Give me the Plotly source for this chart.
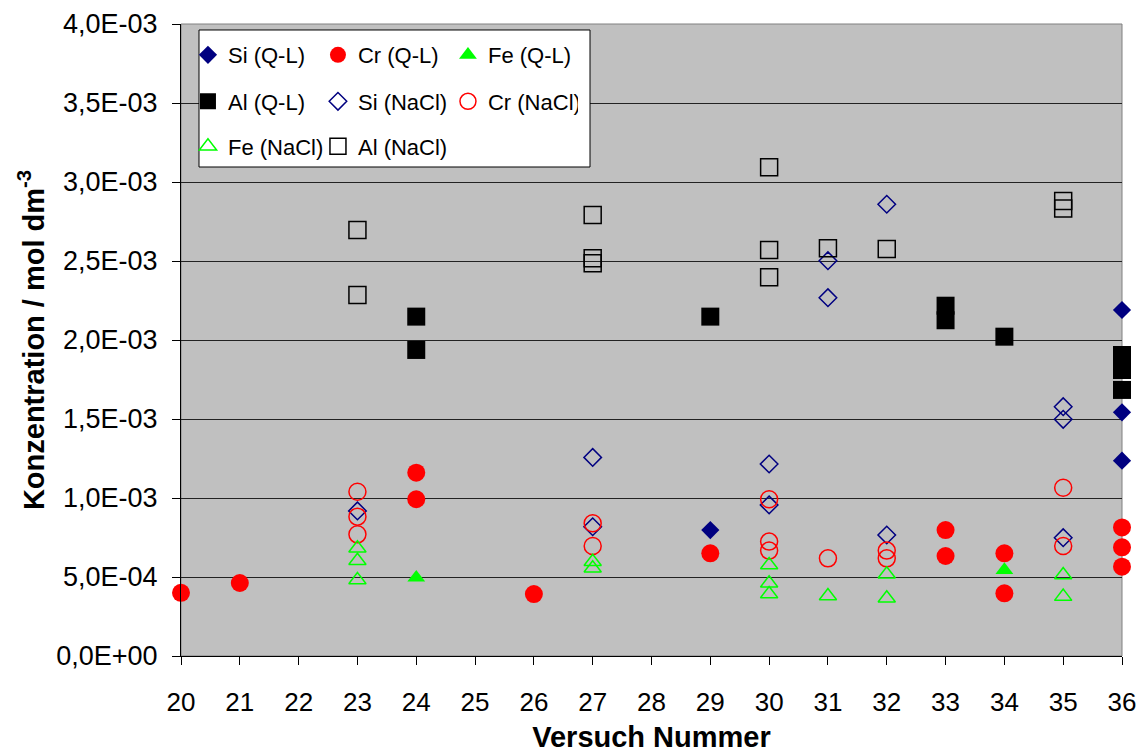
import plotly.graph_objects as go

# Versuch numbers (x) and concentrations in mol dm^-3 (y) for each series
si_ql_x = [29, 36, 36, 36]
si_ql_y = [0.797e-3, 2.190e-3, 1.542e-3, 1.236e-3]

cr_ql_x = [20, 21, 24, 24, 26, 29, 33, 33, 34, 34, 36, 36, 36]
cr_ql_y = [0.400e-3, 0.462e-3, 1.160e-3, 0.992e-3, 0.392e-3, 0.650e-3,
           0.797e-3, 0.633e-3, 0.650e-3, 0.397e-3, 0.814e-3, 0.688e-3, 0.565e-3]

fe_ql_x = [24, 34]
fe_ql_y = [0.496e-3, 0.544e-3]

al_ql_x = [24, 24, 29, 33, 33, 34, 36, 36, 36]
al_ql_y = [2.148e-3, 1.937e-3, 2.148e-3, 2.217e-3, 2.125e-3, 2.021e-3,
           1.905e-3, 1.810e-3, 1.684e-3]

si_nacl_x = [23, 27, 27, 30, 30, 31, 31, 32, 32, 35, 35, 35]
si_nacl_y = [0.918e-3, 1.257e-3, 0.818e-3, 1.215e-3, 0.956e-3, 2.502e-3,
             2.268e-3, 2.859e-3, 0.766e-3, 1.578e-3, 1.498e-3, 0.749e-3]

cr_nacl_x = [23, 23, 23, 27, 27, 30, 30, 30, 31, 32, 32, 35, 35]
cr_nacl_y = [1.040e-3, 0.882e-3, 0.770e-3, 0.840e-3, 0.696e-3, 0.992e-3,
             0.724e-3, 0.667e-3, 0.618e-3, 0.667e-3, 0.618e-3, 1.065e-3, 0.696e-3]

fe_nacl_x = [23, 23, 23, 27, 27, 30, 30, 30, 31, 32, 32, 35, 35]
fe_nacl_y = [0.682e-3, 0.603e-3, 0.481e-3, 0.597e-3, 0.555e-3, 0.576e-3,
             0.460e-3, 0.392e-3, 0.380e-3, 0.517e-3, 0.365e-3, 0.513e-3, 0.376e-3]

al_nacl_x = [23, 23, 27, 27, 27, 30, 30, 30, 31, 32, 35, 35]
al_nacl_y = [2.696e-3, 2.285e-3, 2.791e-3, 2.517e-3, 2.485e-3, 3.093e-3,
             2.570e-3, 2.397e-3, 2.580e-3, 2.576e-3, 2.880e-3, 2.833e-3]

# Axis ticks
x_ticks = list(range(20, 37))
y_tickvals = [0.0, 0.5e-3, 1.0e-3, 1.5e-3, 2.0e-3, 2.5e-3, 3.0e-3, 3.5e-3, 4.0e-3]
y_ticktext = ["0,0E+00", "5,0E-04", "1,0E-03", "1,5E-03", "2,0E-03",
              "2,5E-03", "3,0E-03", "3,5E-03", "4,0E-03"]

FONT = "Liberation Sans"
NAVY, RED, GREEN, BLACK = "#000080", "#FF0000", "#00FF00", "#000000"

# (name, x, y, symbol, color, size, legend row)
series = [
    ("Si (Q-L)", si_ql_x, si_ql_y, "diamond", NAVY, 14, "legend"),
    ("Cr (Q-L)", cr_ql_x, cr_ql_y, "circle", RED, 18, "legend"),
    ("Fe (Q-L)", fe_ql_x, fe_ql_y, "triangle-up", GREEN, 15.5, "legend"),
    ("Al (Q-L)", al_ql_x, al_ql_y, "square", BLACK, 18, "legend2"),
    ("Si (NaCl)", si_nacl_x, si_nacl_y, "diamond-open", NAVY, 13.5, "legend2"),
    ("Cr (NaCl)", cr_nacl_x, cr_nacl_y, "circle-open", RED, 17, "legend2"),
    ("Fe (NaCl)", fe_nacl_x, fe_nacl_y, "triangle-up-open", GREEN, 15, "legend3"),
    ("Al (NaCl)", al_nacl_x, al_nacl_y, "square-open", BLACK, 17, "legend3"),
]

fig = go.Figure()
for name, xs, ys, sym, col, size, leg in series:
    is_open = sym.endswith("-open")
    fig.add_trace(go.Scatter(
        x=xs, y=ys, mode="markers", name=name, legend=leg,
        cliponaxis=False,
        marker=dict(symbol=sym, color=col, size=size,
                    line=dict(width=1.5 if is_open else 0, color=col)),
    ))

legend_common = dict(
    orientation="h", xanchor="left", yanchor="middle", x=0.0074,
    bgcolor="rgba(0,0,0,0)", borderwidth=0,
    font=dict(family=FONT, size=22, color="black"),
    entrywidth=85, entrywidthmode="pixels", itemwidth=30,
)

fig.update_layout(
    width=1137, height=753,
    margin=dict(l=181, r=15, t=24, b=97),
    paper_bgcolor="white",
    plot_bgcolor="#C0C0C0",
    font=dict(family=FONT, size=23, color="black"),
    legend=dict(legend_common, y=0.95095),
    legend2=dict(legend_common, y=0.87737),
    legend3=dict(legend_common, y=0.80617),
    xaxis=dict(
        range=[20, 36], tickmode="array", tickvals=x_ticks,
        ticktext=[str(v) for v in x_ticks],
        showgrid=False, zeroline=False, automargin=False,
        showline=True, linecolor="black", linewidth=1,
        ticks="outside", ticklen=8, tickcolor="black", tickwidth=1,
        ticklabelstandoff=15,
        tickfont=dict(family=FONT, size=26, color="black"),
        title=dict(text="<b>Versuch Nummer</b>",
                   font=dict(family=FONT, size=29, color="black"), standoff=18),
    ),
    yaxis=dict(
        range=[0, 4.0e-3], tickmode="array", tickvals=y_tickvals, ticktext=y_ticktext,
        showgrid=True, gridcolor="#222222", gridwidth=1, zeroline=False,
        automargin=False,
        showline=True, linecolor="black", linewidth=1,
        ticks="outside", ticklen=8, tickcolor="black", tickwidth=1,
        ticklabelstandoff=9,
        tickfont=dict(family=FONT, size=27, color="black"),
        title=dict(text="<b>Konzentration / mol dm<sup>-3</sup></b>",
                   font=dict(family=FONT, size=29, color="black"), standoff=3),
    ),
    shapes=[
        # plot-area frame
        dict(type="rect", xref="paper", yref="paper", x0=0, y0=0, x1=1, y1=1,
             line=dict(color="#808080", width=1), fillcolor="rgba(0,0,0,0)",
             layer="between"),
        # legend box
        dict(type="rect", xref="paper", yref="paper",
             x0=0.01913, y0=0.77373, x1=0.43465, y1=0.99051,
             line=dict(color="black", width=1), fillcolor="white", layer="above"),
    ],
)

fig.write_html("out.html")
